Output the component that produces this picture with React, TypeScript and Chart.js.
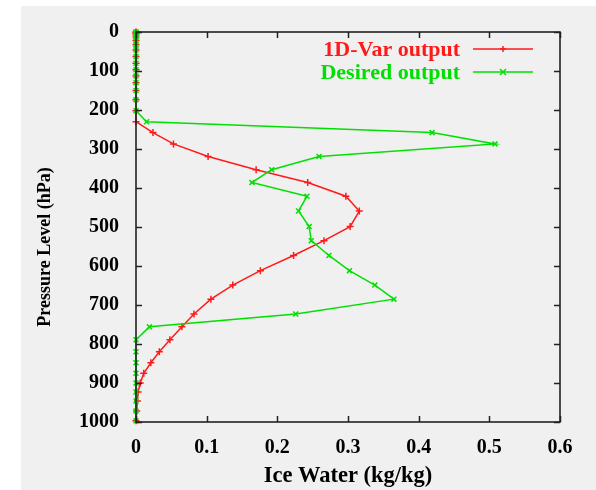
import { useEffect, useRef } from "react";
import { Chart, registerables } from "chart.js";

Chart.register(...registerables);

// Pressure levels (hPa) shared by both profiles
const pressureLevels = [
  0.1, 1, 3, 7, 13, 22, 33, 46, 63, 80, 97, 113, 130, 150, 174, 202, 230, 258, 287, 319,
  353, 386, 421, 459, 499, 535, 573, 612, 649, 685, 723, 756, 789, 820, 848, 875, 900, 923,
  946, 972, 997,
];

// Ice water content (kg/kg) from the 1D-Var retrieval
const varOutput = [
  0, 0, 0, 0, 0, 0, 0, 0, 0, 0, 0, 0, 0, 0, 0, 0, 0, 0.024, 0.053, 0.102,
  0.17, 0.243, 0.297, 0.316, 0.303, 0.266, 0.223, 0.176, 0.137, 0.106, 0.082, 0.065, 0.048, 0.033, 0.021, 0.011, 0.006, 0.003,
  0.002, 0.001, 0,
];

// Ice water content (kg/kg) of the target profile
const desiredOutput = [
  0, 0, 0, 0, 0, 0, 0, 0, 0, 0, 0, 0, 0, 0, 0, 0, 0.015, 0.419, 0.508, 0.259,
  0.192, 0.164, 0.242, 0.23, 0.245, 0.248, 0.273, 0.302, 0.338, 0.365, 0.226, 0.019, 0, 0, 0, 0, 0, 0,
  0, 0, 0,
];

const seriesNames = ["1D-Var output", "Desired output"];
const seriesColors = ["#ff1a1a", "#00e000"];
const xTickValues = [0, 0.1, 0.2, 0.3, 0.4, 0.5, 0.6];
const yTickValues = [0, 100, 200, 300, 400, 500, 600, 700, 800, 900, 1000];
const yTitle = "Pressure Level (hPa)";

const FONT = "'Liberation Serif', 'Times New Roman', serif";

// Frame with inward ticks on all four sides, gnuplot style
const framePlugin = {
  id: "frame",
  afterDatasetsDraw(chart: any) {
    const { ctx, chartArea: a, scales } = chart;
    const len = 6;
    ctx.save();
    ctx.strokeStyle = "#222";
    ctx.lineWidth = 1.5;
    ctx.beginPath();
    for (const v of xTickValues) {
      const px = Math.round(scales.x.getPixelForValue(v)) + 0.5;
      ctx.moveTo(px, a.bottom);
      ctx.lineTo(px, a.bottom - len);
      ctx.moveTo(px, a.top);
      ctx.lineTo(px, a.top + len);
    }
    for (const v of yTickValues) {
      const py = Math.round(scales.y.getPixelForValue(v)) + 0.5;
      ctx.moveTo(a.left, py);
      ctx.lineTo(a.left + len, py);
      ctx.moveTo(a.right, py);
      ctx.lineTo(a.right - len, py);
    }
    ctx.stroke();
    ctx.lineWidth = 1.6;
    ctx.strokeRect(a.left, a.top, a.right - a.left, a.bottom - a.top);
    ctx.restore();
  },
};

// Vertical axis title, set a little below the middle of the axis
const yTitlePlugin = {
  id: "yTitle",
  afterDraw(chart: any) {
    const { ctx } = chart;
    ctx.save();
    ctx.translate(45, 247);
    ctx.rotate(-Math.PI / 2);
    ctx.font = `bold 18px ${FONT}`;
    ctx.fillStyle = "#000";
    ctx.textAlign = "center";
    ctx.textBaseline = "middle";
    ctx.fillText(yTitle, 0, 0);
    ctx.restore();
  },
};

// Key in the upper right: right-aligned coloured text followed by a line sample
const keyPlugin = {
  id: "key",
  afterDraw(chart: any) {
    const { ctx } = chart;
    const textRight = 460;
    const lineStart = 473;
    const lineEnd = 533;
    const rows = [49, 72];
    ctx.save();
    ctx.font = `bold 22px ${FONT}`;
    ctx.textAlign = "right";
    ctx.textBaseline = "middle";
    chart.data.datasets.forEach((ds: any, i: number) => {
      const y = rows[i];
      ctx.fillStyle = ds.borderColor;
      ctx.fillText(ds.label, textRight, y + 1);
      ctx.strokeStyle = ds.borderColor;
      ctx.lineWidth = 1.5;
      ctx.beginPath();
      ctx.moveTo(lineStart, y);
      ctx.lineTo(lineEnd, y);
      ctx.stroke();
      const cx = (lineStart + lineEnd) / 2;
      const r = 3;
      ctx.beginPath();
      if (ds.pointStyle === "cross") {
        ctx.moveTo(cx - r, y);
        ctx.lineTo(cx + r, y);
        ctx.moveTo(cx, y - r);
        ctx.lineTo(cx, y + r);
      } else {
        ctx.moveTo(cx - r, y - r);
        ctx.lineTo(cx + r, y + r);
        ctx.moveTo(cx - r, y + r);
        ctx.lineTo(cx + r, y - r);
      }
      ctx.stroke();
    });
    ctx.restore();
  },
};

export default function App() {
  const canvasRef = useRef<HTMLCanvasElement | null>(null);

  useEffect(() => {
    const canvas = canvasRef.current;
    if (!canvas) return;
    const toPoints = (vals: number[]) => vals.map((v, i) => ({ x: v, y: pressureLevels[i] }));
    const chart = new Chart(canvas, {
      type: "scatter",
      data: {
        datasets: [
          {
            label: seriesNames[0],
            data: toPoints(varOutput),
            showLine: true,
            borderColor: seriesColors[0],
            backgroundColor: seriesColors[0],
            borderWidth: 1.5,
            pointStyle: "cross",
            pointRadius: 3.5,
            pointBorderWidth: 1.5,
            clip: false,
            order: 1,
          },
          {
            label: seriesNames[1],
            data: toPoints(desiredOutput),
            showLine: true,
            borderColor: seriesColors[1],
            backgroundColor: seriesColors[1],
            borderWidth: 1.5,
            pointStyle: "crossRot",
            pointRadius: 3.5,
            pointBorderWidth: 1.5,
            clip: false,
            order: 0,
          },
        ],
      },
      options: {
        animation: false,
        responsive: false,
        maintainAspectRatio: false,
        events: [],
        layout: { padding: { left: 0, top: 32, right: 36, bottom: 0 } },
        plugins: {
          legend: { display: false },
          tooltip: { enabled: false },
        },
        scales: {
          x: {
            type: "linear",
            min: 0,
            max: 0.6,
            afterFit: (s: any) => {
              s.height = 68;
            },
            afterBuildTicks: (s: any) => {
              s.ticks = xTickValues.map((v) => ({ value: v }));
            },
            grid: { display: false, drawTicks: false },
            border: { display: false },
            ticks: {
              color: "#000",
              padding: 14,
              maxRotation: 0,
              callback: (v: any) => String(Math.round(Number(v) * 10) / 10),
              font: { family: FONT, size: 20, weight: "bold" },
            },
            title: {
              display: true,
              text: "Ice Water (kg/kg)",
              color: "#000",
              padding: { top: 7, bottom: 0 },
              font: { family: FONT, size: 22.5, weight: "bold" },
            },
          },
          y: {
            type: "linear",
            min: 0,
            max: 1000,
            reverse: true,
            afterFit: (s: any) => {
              s.width = 136;
            },
            afterBuildTicks: (s: any) => {
              s.ticks = yTickValues.map((v) => ({ value: v }));
            },
            grid: { display: false, drawTicks: false },
            border: { display: false },
            ticks: {
              color: "#000",
              padding: 17,
              callback: (v: any) => String(v),
              font: { family: FONT, size: 20, weight: "bold" },
            },
          },
        },
      },
      plugins: [framePlugin, yTitlePlugin, keyPlugin],
    } as any);
    return () => chart.destroy();
  }, []);

  return (
    <div
      style={{
        position: "absolute",
        left: 0,
        top: 0,
        width: 596,
        height: 490,
        background: "#ffffff",
        overflow: "hidden",
      }}
    >
      <div
        style={{
          position: "absolute",
          left: 21,
          top: 6,
          width: 575,
          height: 484,
          background: "#f0f0f0",
        }}
      />
      <canvas
        ref={canvasRef}
        width={596}
        height={490}
        style={{ position: "absolute", left: 0, top: 0, width: 596, height: 490 }}
      />
    </div>
  );
}
